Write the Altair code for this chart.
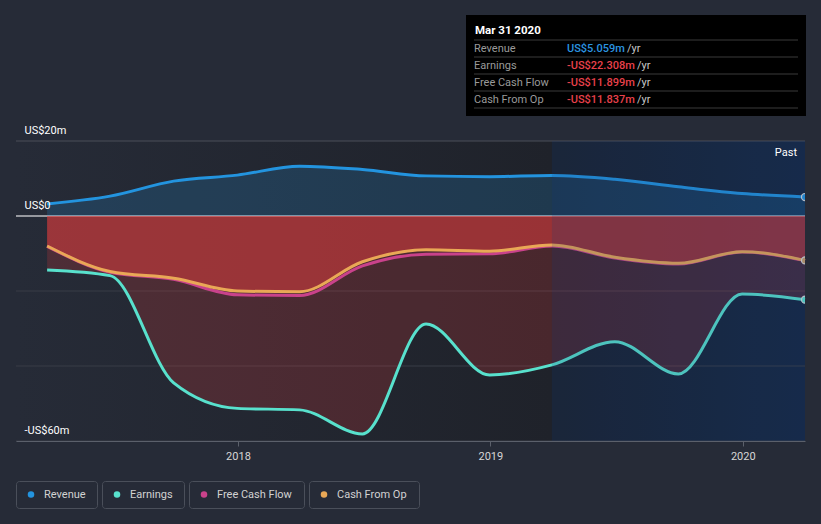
import altair as alt
import pandas as pd

# ---------------- data ----------------
dates = ["2017-03-31", "2017-06-30", "2017-09-30", "2017-12-31", "2018-03-31",
         "2018-06-30", "2018-09-30", "2018-12-31", "2019-03-31", "2019-06-30",
         "2019-09-30", "2019-12-31", "2020-03-31"]
revenue = [3.2, 5.3, 9.3, 10.9, 13.3, 12.4, 10.7, 10.5, 10.8, 9.8, 7.8, 6.0, 5.059]
earnings = [-14.4, -15.9, -44.5, -51.3, -51.7, -58.1, -28.8, -42.4, -39.7, -33.5,
            -42.1, -20.8, -22.308]
free_cash_flow = [-8.1, -15.0, -16.9, -21.0, -21.2, -13.3, -10.2, -10.1, -8.0,
                  -11.2, -12.8, -9.6, -11.899]
cash_from_op = [-8.0, -14.8, -16.6, -20.0, -20.2, -12.2, -9.0, -9.4, -7.7, -11.0,
                -12.6, -9.5, -11.837]

series_names = ["Revenue", "Earnings", "Free Cash Flow", "Cash From Op"]
series_colors = ["#2394df", "#58e1cd", "#c9428b", "#e9a856"]

y_tick_values = [-60, 0, 20]
y_tick_labels = ["-US$60m", "US$0", "US$20m"]
grid_values = [-60, -40, -20, 0, 20]
x_tick_years = [2018, 2019, 2020]

past_start = "2019-03-31"
domain_end = "2020-03-31"

tooltip_title = "Mar 31 2020"
tooltip_values = ["US$5.059m", "-US$22.308m", "-US$11.899m", "-US$11.837m"]
tooltip_value_colors = ["#2b95e0", "#e8414b", "#e8414b", "#e8414b"]

df = pd.DataFrame({
    "date": dates,
    "revenue": revenue,
    "earnings": earnings,
    "fcf": free_cash_flow,
    "cfo": cash_from_op,
})
last = df.tail(1)

# ---------------- layout ----------------
W, H = 789, 300
BG = "#262b37"
FONT = "Roboto"

label_expr = " : ".join(
    f"datum.value == {v} ? '{t}'" for v, t in zip(y_tick_values, y_tick_labels)
) + " : ''"

xscale = alt.Scale(type="utc", domain=[
    alt.DateTime(year=2017, month=2, date=14, utc=True),
    alt.DateTime(year=2020, month=3, date=31, utc=True)])
yscale = alt.Scale(domain=[-60, 20], nice=False, zero=False)

xaxis = alt.Axis(
    values=[alt.DateTime(year=y, month=1, date=1, utc=True) for y in x_tick_years],
    format="%Y", formatType="utc", grid=False, title=None,
    domainColor="#5b606b", tickColor="#5b606b", tickSize=5,
    labelColor="#d6d6d6", labelFont=FONT, labelFontSize=11, labelPadding=4,
    zindex=1)
yaxis = alt.Axis(
    values=y_tick_values, labelExpr=label_expr, grid=False, domain=False,
    ticks=False, title=None, labelAlign="left", labelBaseline="alphabetic",
    labelPadding=-8, labelOffset=-8, labelColor="#ffffff", labelFont=FONT,
    labelFontSize=11, zindex=1)

X = alt.X("date:T", scale=xscale, axis=xaxis)
Y = lambda f: alt.Y(f"{f}:Q", scale=yscale, axis=yaxis)


def grad(stops, x2=1, y2=0):
    return alt.Gradient(gradient="linear", x1=0, y1=0, x2=x2, y2=y2,
                        stops=[alt.GradientStop(color=c, offset=o) for o, c in stops])


base = alt.Chart(df)
one = pd.DataFrame({"k": [0]})

# plot background
plot_bg = alt.Chart(one).mark_rect(
    color=grad([(0, BG), (0.68, "#1f222a"), (1, "#1f222a")])
).encode(x=alt.value(0), x2=alt.value(W), y=alt.value(0), y2=alt.value(H))

past_df = pd.DataFrame({"date": [past_start], "end": [domain_end]})
past_bg = alt.Chart(past_df).mark_rect(
    color=grad([(0, "#1a212c"), (1, "#152741")])
).encode(x=X, x2="end:T", y=alt.value(0), y2=alt.value(H))

grid_df = pd.DataFrame({"v": grid_values})
grid = alt.Chart(grid_df).mark_rule(strokeWidth=1).encode(
    y=Y("v"),
    color=alt.condition("datum.v == 20", alt.value("#4a4e58"), alt.value("#383c47")),
)
zero = alt.Chart(pd.DataFrame({"v": [0]})).mark_rule(color="#ffffff", strokeWidth=1).encode(y=Y("v"))

rev_area = base.mark_area(interpolate="monotone", color="#2394df", opacity=0.2).encode(
    x=X, y=Y("revenue"), y2=alt.datum(0))
earn_area = base.mark_area(interpolate="monotone", color="#e03c3c", opacity=0.22).encode(
    x=X, y=Y("earnings"), y2=alt.datum(0))
cfo_area = base.mark_area(interpolate="monotone", color="#e23e3e", opacity=0.52).encode(
    x=X, y=Y("cfo"), y2=alt.datum(0))

lines = []
for f, c in zip(["revenue", "earnings", "fcf", "cfo"], series_colors):
    lines.append(base.mark_line(interpolate="monotone", color=c, strokeWidth=3).encode(
        x=X, y=Y(f)))

dots = []
for f, c in zip(["revenue", "earnings", "cfo"], [series_colors[0], series_colors[1], "#c8a06a"]):
    dots.append(alt.Chart(last).mark_point(filled=True, fill=c, stroke="#d8d8d8",
                                           strokeWidth=1.2, size=50, opacity=1,
                                           clip=True).encode(
        x=X, y=Y(f)))

overlay = alt.Chart(past_df).mark_rect(color="#1e3c78", opacity=0.18).encode(
    x=X, x2="end:T", y=alt.value(0), y2=alt.value(H))

past_txt = alt.Chart(pd.DataFrame({"t": ["Past"]})).mark_text(
    align="right", baseline="middle", font=FONT, fontSize=11, color="#ffffff"
).encode(x=alt.value(781), y=alt.value(12), text="t:N")

# ---------------- tooltip box ----------------
tip_layers = []
tip_layers.append(alt.Chart(one).mark_rect(color="#000000").encode(
    x=alt.value(450), x2=alt.value(790), y=alt.value(-126), y2=alt.value(-25)))
tip_layers.append(alt.Chart(pd.DataFrame({"t": [tooltip_title]})).mark_text(
    align="left", baseline="middle", font=FONT, fontSize=11.5, fontWeight="bold",
    color="#ffffff").encode(x=alt.value(459), y=alt.value(-110), text="t:N"))
sep_y = [-101, -84, -67, -50, -33]
for sy in sep_y:
    tip_layers.append(alt.Chart(one).mark_rule(color="#3a3a3a", strokeWidth=1).encode(
        x=alt.value(458), x2=alt.value(782), y=alt.value(sy)))
row_y = [-92.5, -75.5, -58.5, -41.5]
yr_x = [611, 621, 621, 621]
for name, val, col, ry, yx in zip(series_names, tooltip_values, tooltip_value_colors, row_y, yr_x):
    tip_layers.append(alt.Chart(pd.DataFrame({"t": [name]})).mark_text(
        align="left", baseline="middle", font=FONT, fontSize=11, color="#9a9a9a"
    ).encode(x=alt.value(458), y=alt.value(ry), text="t:N"))
    tip_layers.append(alt.Chart(pd.DataFrame({"t": [val]})).mark_text(
        align="left", baseline="middle", font=FONT, fontSize=11, fontWeight=500, color=col
    ).encode(x=alt.value(551), y=alt.value(ry), text="t:N"))
    tip_layers.append(alt.Chart(pd.DataFrame({"t": ["/yr"]})).mark_text(
        align="left", baseline="middle", font=FONT, fontSize=11, color="#c8c8c8"
    ).encode(x=alt.value(yx), y=alt.value(ry), text="t:N"))

# ---------------- legend ----------------
leg_layers = []
box_x = [(0, 81), (86, 168), (173, 288), (293, 403)]
for (bx0, bx1), name, col in zip(box_x, series_names, series_colors):
    leg_layers.append(alt.Chart(one).mark_rect(
        fill=BG, stroke="#4a4f5a", strokeWidth=1, cornerRadius=3).encode(
        x=alt.value(bx0 + 0.5), x2=alt.value(bx1 + 0.5), y=alt.value(340.5), y2=alt.value(367.5)))
    leg_layers.append(alt.Chart(one).mark_point(
        filled=True, fill=col, size=42, opacity=1, strokeWidth=0).encode(
        x=alt.value(bx0 + 15), y=alt.value(353.5)))
    leg_layers.append(alt.Chart(pd.DataFrame({"t": [name]})).mark_text(
        align="left", baseline="middle", font=FONT, fontSize=11, color="#d2d2d2"
    ).encode(x=alt.value(bx0 + 28), y=alt.value(354), text="t:N"))

chart = alt.layer(
    plot_bg, past_bg, grid, zero, rev_area, earn_area, cfo_area,
    *lines, *dots, overlay, past_txt, *tip_layers, *leg_layers
).properties(
    width=W, height=H,
    padding={"left": 16, "top": 141, "right": 16, "bottom": 83},
    autosize=alt.AutoSizeParams(type="none"),
    background=BG,
).configure_view(stroke=None)

chart.save("out.html", embed_options={"renderer": "svg", "actions": False})
